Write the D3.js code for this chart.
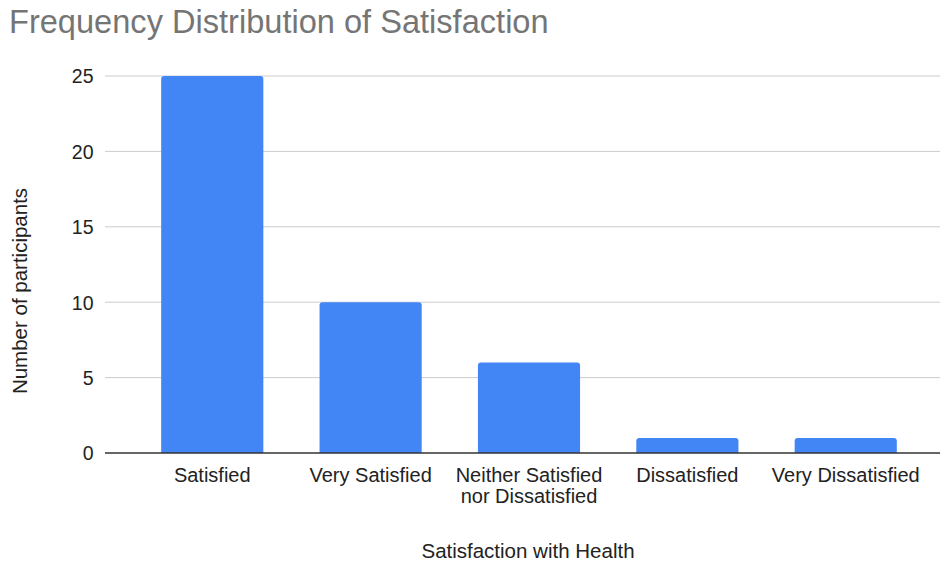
<!DOCTYPE html>
<html>
<head>
<meta charset="utf-8">
<script src="https://cdn.jsdelivr.net/npm/d3@7"></script>
<style>
  html, body { margin: 0; padding: 0; background: #fff; }
  text { font-family: "Liberation Sans", Arial, sans-serif; }
</style>
</head>
<body>
<svg id="chart" width="944" height="564"></svg>
<script>
// Responses to "Satisfaction with Health"
const categories = ["Satisfied", "Very Satisfied", "Neither Satisfied\nnor Dissatisfied", "Dissatisfied", "Very Dissatisfied"];
const counts = [25, 10, 6, 1, 1];
const yTicks = [0, 5, 10, 15, 20, 25];

const svg = d3.select("#chart");
const plot = { left: 105, right: 940, top: 76, bottom: 453 };
const bandLeft = 133, bandRight = 925;

const x = d3.scaleBand().domain(categories).range([bandLeft, bandRight]).paddingInner(0.355).paddingOuter(0.178);
const y = d3.scaleLinear().domain([0, 25]).range([plot.bottom, plot.top]);

// Title
svg.append("text")
  .attr("x", 9).attr("y", 33)
  .attr("font-size", 32.6).attr("fill", "#757575")
  .text("Frequency Distribution of Satisfaction");

// Gridlines
svg.append("g").selectAll("line").data(yTicks.filter(d => d > 0)).join("line")
  .attr("x1", plot.left).attr("x2", plot.right)
  .attr("y1", d => y(d)).attr("y2", d => y(d))
  .attr("stroke", "#cccccc").attr("stroke-width", 1);

// Y tick labels
const yAxis = d3.axisLeft(y).tickValues(yTicks).tickSize(0).tickPadding(0);
const gy = svg.append("g").attr("transform", `translate(${plot.left - 11.5},0)`).call(yAxis);
gy.select(".domain").remove();
gy.selectAll("text").attr("font-size", 19.5).attr("fill", "#222")
  .attr("font-family", "Liberation Sans, Arial, sans-serif").attr("dy", "0.35em");

// Bars with rounded top corners
const r = 3;
svg.append("g").selectAll("path").data(counts).join("path")
  .attr("fill", "#4285f4")
  .attr("d", (d, i) => {
    const x0 = x(categories[i]), w = x.bandwidth();
    const y0 = y(d), y1 = y(0);
    const p = d3.path();
    p.moveTo(x0, y1);
    p.lineTo(x0, y0 + r);
    p.quadraticCurveTo(x0, y0, x0 + r, y0);
    p.lineTo(x0 + w - r, y0);
    p.quadraticCurveTo(x0 + w, y0, x0 + w, y0 + r);
    p.lineTo(x0 + w, y1);
    p.closePath();
    return p.toString();
  });

// Baseline
svg.append("line")
  .attr("x1", plot.left).attr("x2", plot.right)
  .attr("y1", y(0)).attr("y2", y(0))
  .attr("stroke", "#333").attr("stroke-width", 1.5);

// X category labels (may wrap onto two lines)
const gx = svg.append("g");
categories.forEach(c => {
  const cx = x(c) + x.bandwidth() / 2;
  const t = gx.append("text")
    .attr("x", cx).attr("y", 481.5)
    .attr("text-anchor", "middle").attr("font-size", 20).attr("fill", "#222");
  c.split("\n").forEach((line, k) => {
    t.append("tspan").attr("x", cx).attr("dy", k === 0 ? 0 : 21).text(line);
  });
});

// Axis titles
svg.append("text")
  .attr("x", 528).attr("y", 558)
  .attr("text-anchor", "middle").attr("font-size", 20.5).attr("fill", "#222")
  .text("Satisfaction with Health");

svg.append("text")
  .attr("transform", "translate(26.5,291) rotate(-90)")
  .attr("text-anchor", "middle").attr("font-size", 20.5).attr("fill", "#222")
  .text("Number of participants");
</script>
</body>
</html>
